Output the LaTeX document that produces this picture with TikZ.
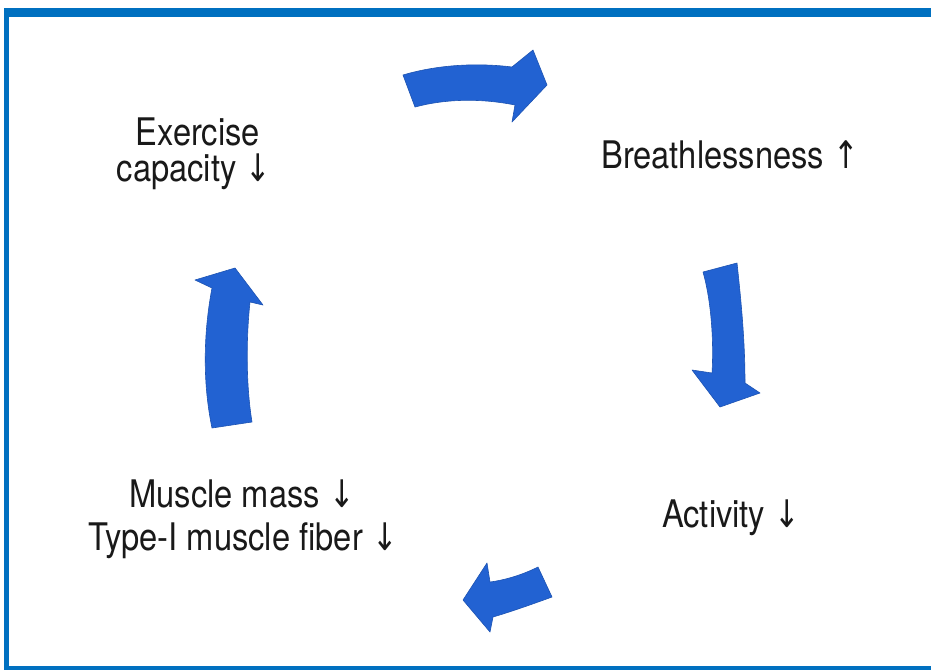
\documentclass[tikz,border=0pt]{standalone}
\usepackage{fontspec}
\setmainfont{TeX Gyre Heros}[FakeStretch=0.86]
\newfontfamily\arrowfont{DejaVu Sans}[FakeStretch=0.8]
\newcommand{\dn}{{\arrowfont\char"2193}}
\newcommand{\upar}{{\arrowfont\char"2191}}
\definecolor{frameblue}{RGB}{0,112,192}
\definecolor{arrowblue}{RGB}{34,98,210}
\begin{document}
\begin{tikzpicture}[x=1pt,y=-1pt,
  lbl/.style={anchor=base,inner sep=0pt,font=\fontsize{38}{40}\selectfont,text=black!90},
  cyc/.style={fill=arrowblue,draw=arrowblue!85!black,line width=0.6pt,line join=round}]
\useasboundingbox (0,0) rectangle (931,670);
% frame
\fill[frameblue] (4,8) rectangle (931,17);
\fill[frameblue] (4,8) rectangle (9,670);
\fill[frameblue] (4,666) rectangle (931,670);
% labels
\node[lbl] (ex1) at (198,145) {Exercise};
\node[lbl] (ex2) at (194,181) {capacity \dn};
\node[lbl] (br) at (730,168) {Breathlessness \upar};
\node[lbl] (ac) at (731,527) {Activity \dn};
\node[lbl] (mu1) at (242,507) {Muscle mass \dn};
\node[lbl] (mu2) at (243,550) {Type-I muscle fiber \dn};
% top arrow (to the right)
\path[cyc] (403,75) .. controls (440,64) and (480,63) .. (512,67)
  -- (533,50) -- (547,85) -- (512,122) -- (515,105)
  .. controls (480,98) and (445,99) .. (415,107) -- cycle;
% right arrow (down)
\path[cyc] (703,272) -- (737,263) .. controls (741,300) and (745,340) .. (745,383)
  -- (760,393) -- (720,407) -- (692,370) -- (712,373)
  .. controls (714,340) and (711,300) .. cycle;
% bottom arrow (to the left)
\path[cyc] (538,567) -- (552,597) .. controls (530,605) and (510,612) .. (493,617)
  -- (490,632) -- (463,600) -- (487,563) -- (490,582)
  .. controls (505,580) and (522,575) .. cycle;
% left arrow (up)
\path[cyc] (212,428) -- (252,422) .. controls (246,385) and (246,340) .. (250,302)
  -- (263,305) -- (235,268) -- (195,280) -- (212,288)
  .. controls (204,330) and (202,380) .. cycle;
\end{tikzpicture}
\end{document}
